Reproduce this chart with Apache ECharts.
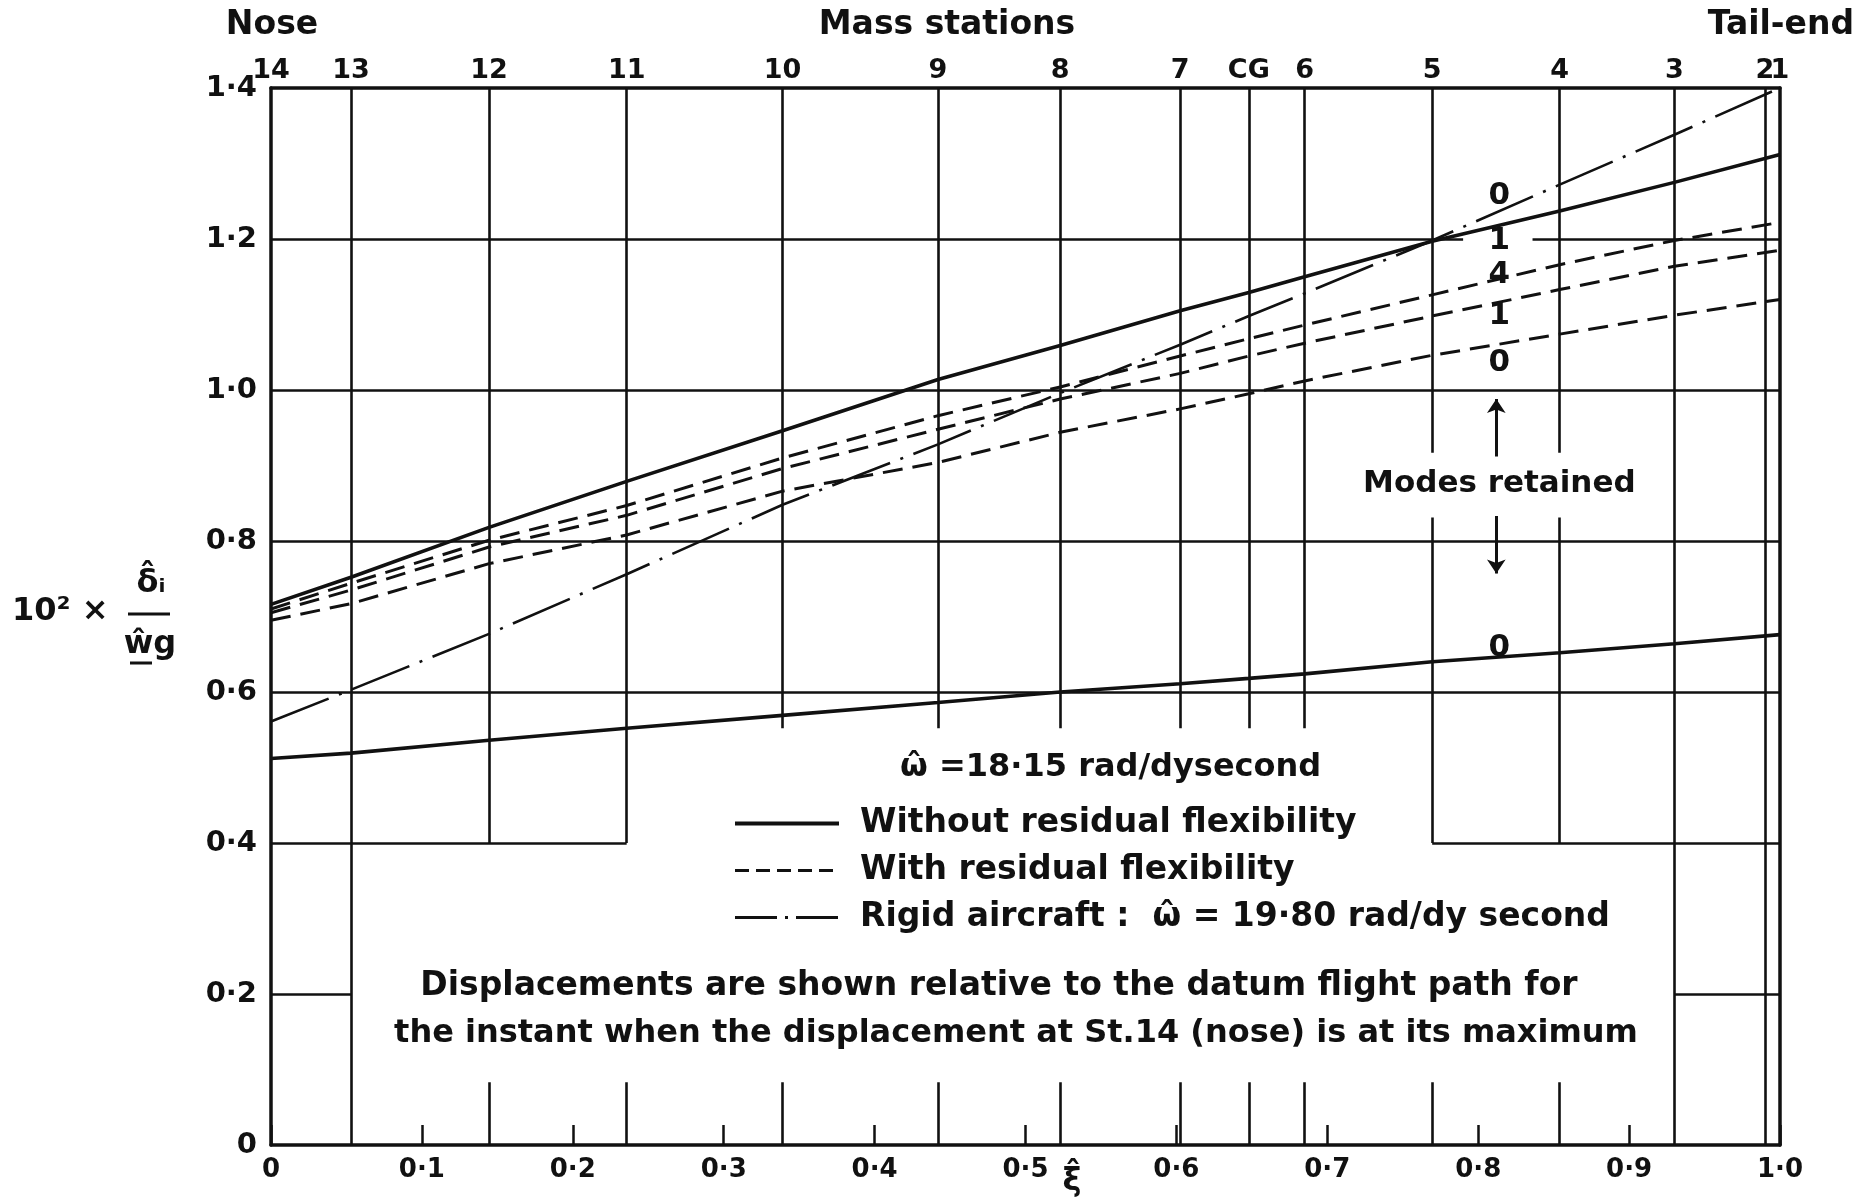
<!DOCTYPE html>
<html><head><meta charset="utf-8">
<script src="https://cdn.jsdelivr.net/npm/echarts@6/dist/echarts.min.js"></script>
<style>html,body{margin:0;background:#fff}#c{width:1858px;height:1201px}</style>
</head><body><div id="c"></div>
<script>
// ---- data ----
const stationNames = ['14','13','12','11','10','9','8','7','CG','6','5','4','3','2','1'];
const stationXi    = [0, 0.053, 0.1445, 0.2357, 0.339, 0.442, 0.523, 0.6025, 0.648, 0.685, 0.7695, 0.854, 0.930, 0.990, 1.0];
const xTicks = [0,0.1,0.2,0.3,0.4,0.5,0.6,0.7,0.8,0.9,1.0];
const yTicks = [0,0.2,0.4,0.6,0.8,1.0,1.2,1.4];

const curveXi    = [0, 0.053, 0.1445, 0.2357, 0.339, 0.442, 0.523, 0.6025, 0.648, 0.685, 0.7695, 0.854, 0.930, 1.0];
const solidOne   = [0.716, 0.752, 0.818, 0.879, 0.946, 1.014, 1.059, 1.105, 1.129, 1.150, 1.197, 1.237, 1.275, 1.312];
const solidZero  = [0.512, 0.519, 0.536, 0.552, 0.569, 0.586, 0.600, 0.611, 0.618, 0.624, 0.640, 0.652, 0.664, 0.676];
const dashedFour = [0.710, 0.744, 0.801, 0.847, 0.910, 0.966, 1.004, 1.045, 1.068, 1.086, 1.126, 1.166, 1.198, 1.222];
const dashedOne  = [0.705, 0.735, 0.792, 0.834, 0.896, 0.948, 0.988, 1.022, 1.045, 1.062, 1.098, 1.133, 1.164, 1.185];
const dashedZero = [0.695, 0.717, 0.770, 0.808, 0.866, 0.904, 0.944, 0.975, 0.995, 1.012, 1.046, 1.074, 1.099, 1.120];
const rigid      = [0.561, 0.603, 0.677, 0.756, 0.848, 0.928, 0.996, 1.060, 1.098, 1.128, 1.198, 1.272, 1.338, 1.400];

const modeLabelXi = 0.814;
const modeLabelText = ['0','1','4','1','0','Modes retained','0'];
const modeLabelY    = [1.257, 1.198, 1.152, 1.098, 1.036, 0.876, 0.658];
const arrowsY = [[0.912, 0.988], [0.833, 0.757]];

const S = {}; stationNames.forEach((n,i)=>S[n]=stationXi[i]);
// grid segments: vertical [xi, yFrom, yTo], horizontal [y, xiFrom, xiTo]
const gridV = [
  [S['13'],0,1.4],
  [S['12'],0.4,1.4],[S['12'],0,0.083],
  [S['11'],0.4,1.4],[S['11'],0,0.083],
  [S['10'],0.552,1.4],[S['10'],0,0.083],
  [S['9'],0.552,1.4],[S['9'],0,0.083],
  [S['8'],0.552,1.4],[S['8'],0,0.083],
  [S['7'],0.552,1.4],[S['7'],0,0.083],
  [S['CG'],0.552,1.4],[S['CG'],0,0.083],
  [S['6'],0.552,1.4],[S['6'],0,0.083],
  [S['5'],0.917,1.4],[S['5'],0.4,0.831],[S['5'],0,0.083],
  [S['4'],0.917,1.4],[S['4'],0.4,0.831],[S['4'],0,0.083],
  [S['3'],0,1.4],
  [S['2'],0,1.4]
];
const gridH = [
  [1.2,0,0.79],[1.2,0.836,1.0],
  [1.0,0,1.0],[0.8,0,1.0],[0.6,0,1.0],
  [0.4,0,S['11']],[0.4,S['5'],1.0],
  [0.2,0,S['13']],[0.2,S['3'],1.0]
];

// ---- chart ----
const FONT = 'DejaVu Sans';
const INK = '#111';
const fmt = v => v === 0 ? '0' : v.toFixed(1).replace('.', '·');
const pairs = ys => curveXi.map((x,i)=>[x, ys[i]]);

const NAME_SOLID = 'Without residual flexibility';
const NAME_DASH = 'With residual flexibility';
const NAME_RIGID = 'Rigid aircraft :  ω̂ = 19·80 rad/dy second';

const segData = gridV.map(s=>({coords:[[s[0],s[1]],[s[0],s[2]]]}))
  .concat(gridH.map(s=>({coords:[[s[1],s[0]],[s[2],s[0]]]})));

const solidStyle = {color: INK, width: 3.6, type: 'solid'};
const dashStyle = {color: INK, width: 3, type: [20, 10]};
const rigidStyle = {color: INK, width: 2.6, type: [62, 11, 3, 11]};
const txt = (text, x, y, size, align, extra) => ({type: 'text', x, y, style: Object.assign({
  text, fontSize: size, fontFamily: FONT, fontWeight: 'bold', fill: INK, align: align || 'left', verticalAlign: 'middle'}, extra || {})});
const labelScatter = {type: 'scatter', z: 5, silent: true, symbolSize: 1,
  itemStyle: {color: 'rgba(0,0,0,0)', opacity: 1}};

const chart = echarts.init(document.getElementById('c'), null, {renderer: 'canvas'});
chart.setOption({
  animation: false,
  backgroundColor: '#fff',
  textStyle: {fontFamily: FONT, color: INK},
  grid: {left: 271, right: 78, top: 88, bottom: 56, containLabel: false},
  xAxis: [{
    type: 'value', min: 0, max: 1, interval: 0.1, position: 'bottom',
    axisLine: {show: true, lineStyle: {color: INK, width: 3.5}},
    axisTick: {show: true, inside: true, length: 20, lineStyle: {color: INK, width: 2.5}},
    axisLabel: {formatter: fmt, fontSize: 26, fontWeight: 'bold', margin: 12, color: INK, fontFamily: FONT},
    splitLine: {show: false}
  }, {
    type: 'value', min: 0, max: 1, position: 'top',
    axisLine: {show: true, onZero: false, lineStyle: {color: INK, width: 3.5}},
    axisTick: {show: false}, axisLabel: {show: false}, splitLine: {show: false}
  }],
  yAxis: [{
    type: 'value', min: 0, max: 1.4, interval: 0.2, position: 'left',
    axisLine: {show: true, onZero: false, lineStyle: {color: INK, width: 3.5}},
    axisTick: {show: false},
    axisLabel: {formatter: fmt, fontSize: 29, fontWeight: 'bold', margin: 14, color: INK, fontFamily: FONT},
    splitLine: {show: false}
  }, {
    type: 'value', min: 0, max: 1.4, interval: 0.2, position: 'right',
    axisLine: {show: true, onZero: false, lineStyle: {color: INK, width: 3.5}},
    axisTick: {show: false}, axisLabel: {show: false}, splitLine: {show: false}
  }],
  legend: {
    data: [
      {name: NAME_SOLID, lineStyle: {width: 4, type: 'solid'}},
      {name: NAME_DASH, lineStyle: {width: 3, type: [14, 7]}},
      {name: NAME_RIGID, lineStyle: {width: 3, type: [42, 8, 3, 8]}}
    ],
    orient: 'vertical', left: 733, top: 806, padding: 0,
    itemWidth: 104, itemHeight: 20, itemGap: 12,
    selectedMode: false,
    itemStyle: {opacity: 0},
    textStyle: {fontSize: 33, fontWeight: 'bold', color: INK, fontFamily: FONT, lineHeight: 35, padding: [0,0,0,16]}
  },
  series: [
    {type: 'lines', coordinateSystem: 'cartesian2d', z: 1, silent: true,
     lineStyle: {color: INK, width: 2.6, opacity: 1}, data: segData},
    {type: 'lines', coordinateSystem: 'cartesian2d', z: 4, silent: true,
     symbol: ['none', 'arrow'], symbolSize: 14,
     lineStyle: {color: INK, width: 3, opacity: 1},
     data: arrowsY.map(a=>({coords: [[modeLabelXi - 0.002, a[0]], [modeLabelXi - 0.002, a[1]]]}))},
    {name: NAME_SOLID, type: 'line', z: 3, symbol: 'none', data: pairs(solidOne), lineStyle: solidStyle, itemStyle: {color: INK}},
    {name: NAME_SOLID, type: 'line', z: 3, symbol: 'none', data: pairs(solidZero), lineStyle: solidStyle, itemStyle: {color: INK}},
    {name: NAME_DASH, type: 'line', z: 3, symbol: 'none', data: pairs(dashedFour), lineStyle: dashStyle, itemStyle: {color: INK}},
    {name: NAME_DASH, type: 'line', z: 3, symbol: 'none', data: pairs(dashedOne), lineStyle: dashStyle, itemStyle: {color: INK}},
    {name: NAME_DASH, type: 'line', z: 3, symbol: 'none', data: pairs(dashedZero), lineStyle: dashStyle, itemStyle: {color: INK}},
    {name: NAME_RIGID, type: 'line', z: 3, symbol: 'none', data: pairs(rigid), lineStyle: rigidStyle, itemStyle: {color: INK}},
    // mode annotations
    Object.assign({}, labelScatter, {
     data: modeLabelText.map((t,i)=>[modeLabelXi, modeLabelY[i], t]),
     label: {show: true, position: 'inside', formatter: p => p.data[2], opacity: 1,
       fontSize: 31, fontWeight: 'bold', color: INK, fontFamily: FONT}}),
    // mass station labels along the top edge
    Object.assign({}, labelScatter, {clip: false,
     data: stationXi.map((x,i)=>[x, 1.4, stationNames[i]]),
     label: {show: true, position: 'top', distance: 3, formatter: p => p.data[2], opacity: 1,
       fontSize: 27, fontWeight: 'bold', color: INK, fontFamily: FONT}})
  ],
  graphic: [
    txt('Nose', 272, 25, 33, 'center'),
    txt('Mass stations', 947, 25, 33, 'center'),
    txt('Tail-end', 1854, 25, 33, 'right'),
    txt('10² ×', 12, 612, 32),
    txt('δ̂ᵢ', 151, 584, 32, 'center'),
    {type: 'line', shape: {x1: 128, y1: 614, x2: 170, y2: 614}, style: {stroke: INK, lineWidth: 3}},
    txt('ŵg', 150, 645, 32, 'center'),
    {type: 'line', shape: {x1: 130, y1: 663, x2: 152, y2: 663}, style: {stroke: INK, lineWidth: 3}},
    txt('ξ̂', 1072, 1182, 32, 'center'),
    txt('ω̂ =18·15 rad/dysecond', 900, 768, 32),
    txt('Displacements are shown relative to the datum flight path for', 999, 986, 33, 'center'),
    txt('the instant when the displacement at St.14 (nose) is at its maximum', 1016, 1034, 32, 'center')
  ]
});
</script></body></html>
